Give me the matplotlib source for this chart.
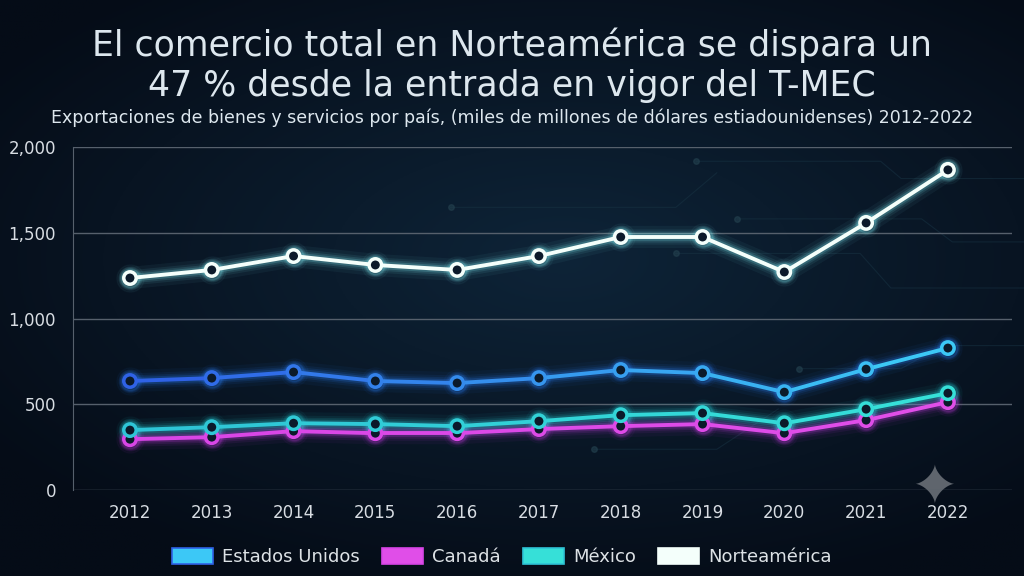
import numpy as np
import matplotlib.pyplot as plt
from matplotlib.collections import LineCollection
from matplotlib.colors import to_rgb
from matplotlib.patches import Patch, Polygon

years = [2012, 2013, 2014, 2015, 2016, 2017, 2018, 2019, 2020, 2021, 2022]
estados_unidos = [636, 653, 688, 636, 624, 653, 700, 682, 571, 705, 828]
canada = [297, 309, 344, 332, 332, 356, 373, 385, 332, 408, 513]
mexico = [350, 367, 390, 385, 373, 402, 437, 449, 390, 472, 565]
norteamerica = [1236, 1283, 1364, 1312, 1283, 1364, 1475, 1475, 1271, 1557, 1866]

yticks = [0, 500, 1000, 1500, 2000]
ytick_labels = ['0', '500', '1,000', '1,500', '2,000']

title = 'El comercio total en Norteamérica se dispara un\n47 % desde la entrada en vigor del T-MEC'
subtitle = ('Exportaciones de bienes y servicios por país, (miles de millones de dólares '
            'estiadounidenses) 2012-2022')

series = [
    ('Estados Unidos', estados_unidos, '#2f62e6', '#3cc8f6', '#2a7cf0'),
    ('Canadá', canada, '#d845e6', '#e04ee8', '#c33be0'),
    ('México', mexico, '#2ec4d6', '#36e0d8', '#25c8d0'),
    ('Norteamérica', norteamerica, '#f4fffb', '#f4fffb', '#7fe8f0'),
]

fig = plt.figure(figsize=(10.24, 5.76), dpi=100)
fig.patch.set_facecolor('#07111e')

# background gradient
bg = fig.add_axes([0, 0, 1, 1], zorder=-10)
yy, xx = np.mgrid[0:1:200j, 0:1:350j]
r = np.sqrt(((xx - 0.55) / 0.9) ** 2 + ((yy - 0.55) / 0.8) ** 2)
c0 = np.array(to_rgb('#0e2438'))
c1 = np.array(to_rgb('#050c17'))
t = np.clip(r / 0.75, 0, 1)[..., None]
bg.imshow(c0 * (1 - t) + c1 * t, aspect='auto', extent=[0, 1, 0, 1], origin='lower')
bg.axis('off')

# faint circuit lines
circ = [((0.68, 0.72), (0.86, 0.72), (0.88, 0.69), (1.0, 0.69)),
        ((0.72, 0.62), (0.90, 0.62), (0.93, 0.58), (1.0, 0.58)),
        ((0.66, 0.56), (0.84, 0.56), (0.87, 0.50), (1.0, 0.50)),
        ((0.78, 0.36), (0.88, 0.36), (0.92, 0.40), (1.0, 0.40)),
        ((0.44, 0.64), (0.66, 0.64), (0.70, 0.70)),
        ((0.58, 0.22), (0.70, 0.22), (0.76, 0.29))]
for pts in circ:
    p = np.array(pts)
    bg.plot(p[:, 0], p[:, 1], color='#183444', lw=0.8, alpha=0.5)
    bg.plot(p[0, 0], p[0, 1], 'o', color='#23404e', ms=4, alpha=0.6)

# sparkle (4-point star with curved sides)
cx, cy, rx, ry = 0.913, 0.16, 0.019, 0.034
th = np.linspace(0, 2 * np.pi, 200)
sx = cx + rx * np.sign(np.cos(th)) * np.abs(np.cos(th)) ** 3
sy = cy + ry * np.sign(np.sin(th)) * np.abs(np.sin(th)) ** 3
bg.add_patch(Polygon(np.column_stack([sx, sy]), closed=True, facecolor='#5f656d', edgecolor='none'))
bg.set_xlim(0, 1)
bg.set_ylim(0, 1)

ax = fig.add_axes([0.071, 0.149, 0.917, 0.596])
ax.set_facecolor('none')

for name, vals, ca, cb, glow in series:
    x = np.array(years, float)
    y = np.array(vals, float)
    # glow
    for lw, a in [(16, 0.05), (11, 0.08), (8, 0.12), (5.5, 0.2)]:
        ax.plot(x, y, color=glow, lw=lw, alpha=a, solid_capstyle='round', zorder=2)
        ax.plot(x, y, 'o', color=glow, ms=10 + lw * 0.6, alpha=a * 0.8, zorder=2)
    segs = np.stack([np.column_stack([x[:-1], y[:-1]]), np.column_stack([x[1:], y[1:]])], axis=1)
    fr = np.linspace(0, 1, len(segs))[:, None]
    cols = np.array(to_rgb(ca)) * (1 - fr) + np.array(to_rgb(cb)) * fr
    ax.add_collection(LineCollection(segs, colors=cols, lw=2.8, zorder=3, capstyle='round'))
    fr2 = np.linspace(0, 1, len(x))[:, None]
    mcols = np.array(to_rgb(ca)) * (1 - fr2) + np.array(to_rgb(cb)) * fr2
    ax.scatter(x, y, s=80, facecolor='#0b1a2a', edgecolor=mcols, linewidths=2.5, zorder=4)

ax.set_xlim(2011.3, 2022.78)
ax.set_ylim(0, 2000)
ax.set_xticks(years)
ax.set_yticks(yticks)
ax.set_yticklabels(ytick_labels)
ax.tick_params(colors='#d8dde3', labelsize=12, length=0, pad=10)
ax.tick_params(axis='y', pad=12)
ax.grid(axis='y', color='#56606c', lw=1)
ax.set_axisbelow(True)
for s in ['top', 'right', 'bottom']:
    ax.spines[s].set_visible(False)
ax.spines['left'].set_color('#56606c')
ax.spines['left'].set_bounds(0, 2000)

fig.text(0.5, 0.887, title, ha='center', va='center', fontsize=25, color='#dde7ee',
         linespacing=1.2)
fig.text(0.5, 0.795, subtitle, ha='center', va='center', fontsize=12.5, color='#dde7ee')

handles = [Patch(facecolor=cb, edgecolor=ca, lw=1.2) for _, _, ca, cb, _ in series]
leg = fig.legend(handles, [s[0] for s in series], loc='center', bbox_to_anchor=(0.49, 0.033),
                 ncol=4, frameon=False, fontsize=13, labelcolor='#dde2e6',
                 handlelength=2.3, handleheight=1.0, columnspacing=1.2, handletextpad=0.5)

fig.savefig('out.png', dpi=100, facecolor=fig.get_facecolor())
